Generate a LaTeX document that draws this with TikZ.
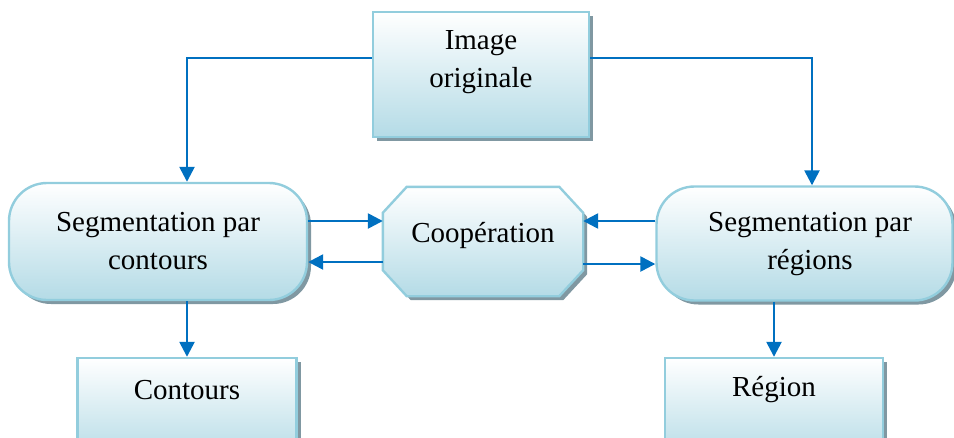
\documentclass[tikz,border=0pt]{standalone}
\usepackage{fontspec}
\setmainfont{Liberation Serif}
\usetikzlibrary{arrows.meta,shadows,calc}

\definecolor{edgeblue}{RGB}{146,205,221}
\definecolor{fillmid}{RGB}{208,234,241}
\definecolor{fillbot}{RGB}{180,219,230}
\definecolor{shadowc}{RGB}{128,152,162}
\definecolor{linkblue}{RGB}{0,112,192}

\tikzset{
  panel/.style={draw=edgeblue, line width=2.4pt,
    top color=white, middle color=fillmid, bottom color=fillbot,
    drop shadow={shadow xshift=4pt, shadow yshift=-4pt, fill=shadowc, opacity=1}},
  boxnode/.style={panel, rectangle, inner sep=0pt},
  pill/.style={panel, rectangle, rounded corners=38pt, inner sep=0pt, align=center},
  ghost/.style={rectangle, inner sep=0pt, draw=none},
  txt/.style={font=\fontsize{29}{38}\selectfont, align=center, inner sep=0pt},
  link/.style={draw=linkblue, line width=2.5pt,
    -{Triangle[length=15pt,width=15pt]}}
}

\begin{document}
\begin{tikzpicture}[x=1pt,y=-1pt]
  \useasboundingbox (0,0) rectangle (954,437);
  \clip (0,0) rectangle (954,437);

  % boxes
  \node[boxnode, minimum width=216pt, minimum height=125pt] (img) at (481,74.5) {};
  \node[txt] (imgtxt) at (481,62) {Image\\originale};

  \node[pill, txt, minimum width=298pt, minimum height=117pt] (seg1) at (158,241.5)
    {Segmentation par\\contours};

  \node[pill, minimum width=296pt, minimum height=114pt] (seg2) at (804.5,243.5) {};
  \node[txt] (seg2txt) at (810,244) {Segmentation par\\régions};

  % octagonal cooperation block
  \node[ghost, minimum width=200pt, minimum height=109pt] (coop) at (483,241.5) {};
  \path[panel]
    ($(coop.north west)+(24,0)$) -- ($(coop.north east)+(-24,0)$)
    -- ($(coop.north east)+(0,26)$) -- ($(coop.south east)+(0,-26)$)
    -- ($(coop.south east)+(-24,0)$) -- ($(coop.south west)+(24,0)$)
    -- ($(coop.south west)+(0,-26)$) -- ($(coop.north west)+(0,26)$) -- cycle;
  \node[txt] (cooptxt) at (483,236) {Coopération};

  \node[boxnode, minimum width=219pt, minimum height=102pt] (cont) at (187,409) {};
  \node[txt] (conttxt) at (187,390) {Contours};

  \node[boxnode, minimum width=218pt, minimum height=102pt] (reg) at (774,409) {};
  \node[txt] (regtxt) at (774,390) {Région};

  % connectors from the source image
  \draw[link] ([yshift=16.5pt]img.west) -| ([xshift=29pt]seg1.north);
  \draw[link] ([yshift=16.5pt]img.east) -| ([xshift=7.5pt]seg2.north);

  % exchanges with the cooperation block
  \draw[link] ([yshift=20.5pt]seg1.east) -- ([yshift=20.5pt]coop.west);
  \draw[link] ([yshift=-20.5pt]coop.west) -- ([yshift=-20.5pt]seg1.east);
  \draw[link] ([yshift=22.5pt]seg2.west) -- ([yshift=20.5pt]coop.east);
  \draw[link] ([yshift=-22.5pt]coop.east) -- ([yshift=-20.5pt]seg2.west);

  % results
  \draw[link] ([xshift=29pt]seg1.south) -- (cont.north);
  \draw[link] ([xshift=-30.5pt]seg2.south) -- (reg.north);
\end{tikzpicture}
\end{document}
